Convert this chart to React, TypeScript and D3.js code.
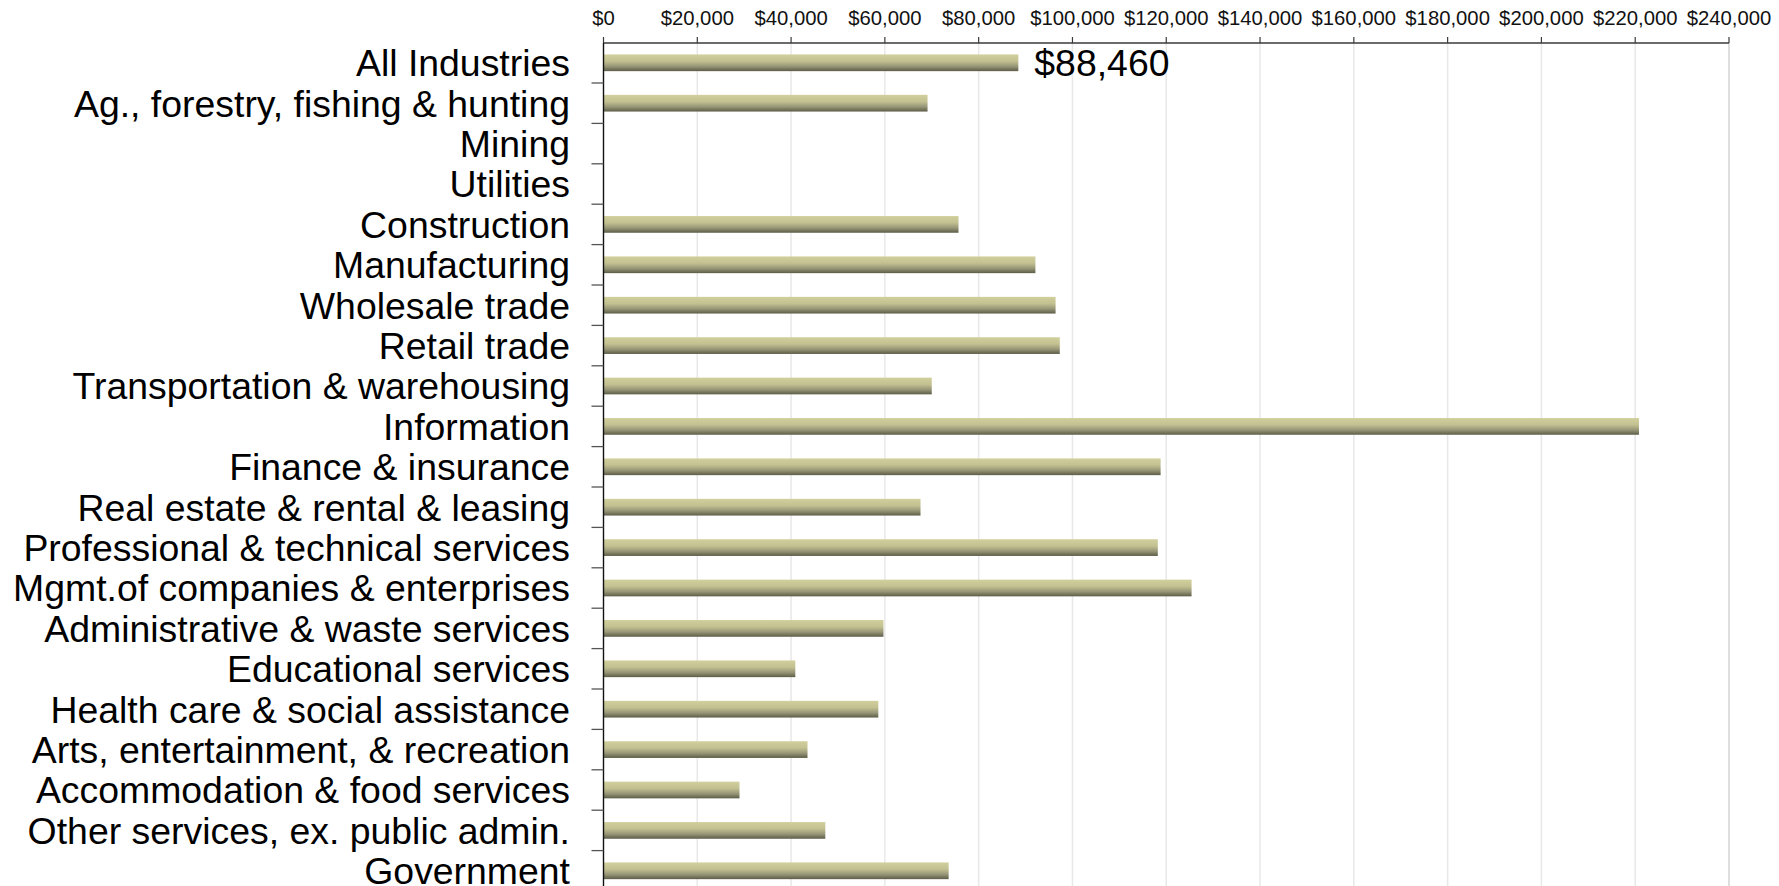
import React from "react";
import * as d3 from "d3";

const categories: string[] = [
  "All Industries",
  "Ag., forestry, fishing & hunting",
  "Mining",
  "Utilities",
  "Construction",
  "Manufacturing",
  "Wholesale trade",
  "Retail trade",
  "Transportation & warehousing",
  "Information",
  "Finance & insurance",
  "Real estate & rental & leasing",
  "Professional & technical services",
  "Mgmt.of companies & enterprises",
  "Administrative & waste services",
  "Educational services",
  "Health care & social assistance",
  "Arts, entertainment, & recreation",
  "Accommodation & food services",
  "Other services, ex. public admin.",
  "Government",
];

const wages: (number | null)[] = [
  88460, 69100, null, null, 75700, 92100, 96400, 97300, 70000, 220800, 118800,
  67600, 118200, 125400, 59700, 40900, 58600, 43500, 29000, 47300, 73600,
];

const xTicks: number[] = [
  0, 20000, 40000, 60000, 80000, 100000, 120000, 140000, 160000, 180000,
  200000, 220000, 240000,
];

const highlightLabel = "$88,460";

export default function App() {
  const W = 1779;
  const H = 886;
  const x = d3.scaleLinear().domain([0, 240000]).range([603.5, 1729]);
  const y = d3
    .scaleBand<string>()
    .domain(categories)
    .range([42.6, 42.6 + 40.4 * categories.length])
    .padding(0);
  const step = y.step();
  const barH = 16.7;
  const axisY = 43;
  const fmt = (v: number) => "$" + d3.format(",")(v);
  const font = "'Liberation Sans', Arial, sans-serif";

  return (
    <svg
      width={W}
      height={H}
      style={{ position: "absolute", left: 0, top: 0, background: "#fff" }}
      fontFamily={font}
    >
      <defs>
        <linearGradient id="barGrad" x1="0" y1="0" x2="0" y2="1">
          <stop offset="0%" stopColor="#d1cf9c" />
          <stop offset="40%" stopColor="#c3c191" />
          <stop offset="72%" stopColor="#969576" />
          <stop offset="100%" stopColor="#5d5d48" />
        </linearGradient>
      </defs>

      {/* gridlines */}
      {xTicks.slice(1).map((t, i) => (
        <line
          key={"g" + t}
          x1={x(t)}
          x2={x(t)}
          y1={axisY}
          y2={H}
          stroke={i === xTicks.length - 2 ? "#dedede" : "#e8e8e8"}
          strokeWidth={i === xTicks.length - 2 ? 2 : 1.5}
        />
      ))}

      {/* bars */}
      {categories.map((c, i) => {
        const v = wages[i];
        if (v == null) return null;
        const cy = (y(c) as number) + step / 2;
        return (
          <rect
            key={"b" + c}
            x={x(0)}
            y={cy - barH / 2}
            width={x(v) - x(0)}
            height={barH}
            fill="url(#barGrad)"
          />
        );
      })}

      {/* top axis */}
      <line x1={x(0)} x2={x(240000)} y1={axisY} y2={axisY} stroke="#3a3a3a" strokeWidth={1.3} />
      {xTicks.map((t) => (
        <g key={"t" + t}>
          <line x1={x(t)} x2={x(t)} y1={axisY} y2={axisY - 6} stroke="#3a3a3a" strokeWidth={1.2} />
          <text x={x(t)} y={25} textAnchor="middle" fontSize={20.3} fill="#111">
            {fmt(t)}
          </text>
        </g>
      ))}

      {/* y axis */}
      <line x1={x(0)} x2={x(0)} y1={axisY} y2={H} stroke="#111" strokeWidth={1.4} />
      {categories.slice(1).map((c) => (
        <line
          key={"yt" + c}
          x1={x(0) - 12}
          x2={x(0)}
          y1={y(c) as number}
          y2={y(c) as number}
          stroke="#555"
          strokeWidth={1.3}
        />
      ))}

      {/* category labels */}
      {categories.map((c) => (
        <text
          key={"l" + c}
          x={570}
          y={(y(c) as number) + step / 2 + 13.3}
          textAnchor="end"
          fontSize={37.4}
          fill="#000"
        >
          {c}
        </text>
      ))}

      {/* data label */}
      <text
        x={x(wages[0] as number) + 16}
        y={(y(categories[0]) as number) + step / 2 + 13.5}
        fontSize={37.4}
        fill="#000"
      >
        {highlightLabel}
      </text>
    </svg>
  );
}
